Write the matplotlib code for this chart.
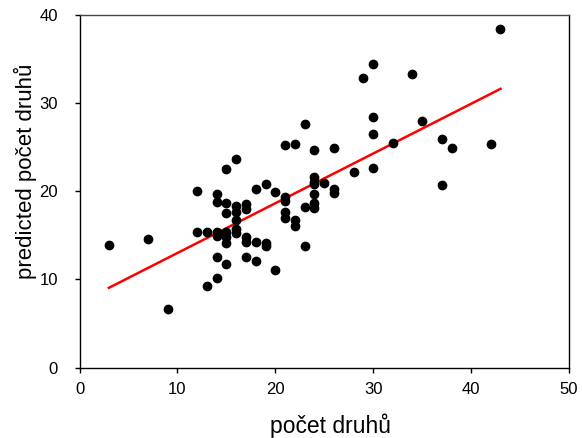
import matplotlib
matplotlib.use("Agg")
import matplotlib.pyplot as plt

# --- data ---
pocet = [3, 7, 9,
         12, 12, 13, 13,
         14, 14, 14, 14, 14, 14,
         15, 15, 15, 15, 15, 15, 15,
         16, 16, 16, 16, 16, 16,
         17, 17, 17, 17, 17,
         18, 18, 18,
         19, 19, 19,
         20, 20,
         21, 21, 21, 21, 21,
         22, 22, 22,
         23, 23, 23,
         24, 24, 24, 24, 24, 24, 24,
         25, 26, 26, 26, 28, 29,
         30, 30, 30, 30,
         32, 34, 35, 37, 37, 38, 42, 43]
predicted = [13.9, 14.6, 6.6,
             20.0, 15.4, 15.4, 9.25,
             19.7, 18.8, 15.4, 14.9, 12.5, 10.2,
             22.5, 18.7, 17.5, 15.4, 14.8, 14.1, 11.7,
             23.6, 18.3, 17.7, 16.7, 15.7, 15.3,
             18.6, 18.0, 14.8, 14.2, 12.6,
             20.2, 14.2, 12.1,
             20.8, 14.1, 13.8,
             19.9, 11.1,
             25.2, 19.4, 18.9, 17.6, 17.0,
             25.3, 16.7, 16.05,
             27.6, 18.2, 13.8,
             24.7, 21.6, 21.1, 20.8, 19.7, 18.7, 18.1,
             20.9, 24.9, 20.3, 19.75, 22.2, 32.8,
             34.4, 28.4, 26.5, 22.65,
             25.5, 33.3, 27.9, 25.9, 20.7, 24.9, 25.3, 38.4]

# regression line end points
fit_x = [3, 43]
fit_y = [9.05, 31.6]

x_ticks = [0, 10, 20, 30, 40, 50]
y_ticks = [0, 10, 20, 30, 40]

plt.rcParams['font.family'] = ['Liberation Sans', 'DejaVu Sans']

fig = plt.figure(figsize=(5.82, 4.38), dpi=100)
ax = fig.add_axes([0.1366, 0.1605, 0.8411, 0.8059])

ax.plot(pocet, predicted, 'o', color='black', markersize=6, zorder=3)
ax.plot(fit_x, fit_y, color='red', linewidth=1.8, zorder=2)

ax.set_xlim(0, 50)
ax.set_ylim(0, 40)
ax.set_xticks(x_ticks)
ax.set_yticks(y_ticks)
ax.tick_params(direction='out', length=3.6, width=1, labelsize=12)
ax.tick_params(axis='x', pad=7)
ax.tick_params(axis='y', pad=12)

for s in ax.spines.values():
    s.set_linewidth(1)
    s.set_color('black')
ax.spines['top'].set_color('#444444')

ax.set_xlabel('počet druhů', fontsize=16.5)
ax.xaxis.set_label_coords(0.512, -0.13)
ax.set_ylabel('predicted počet druhů', fontsize=16)
ax.yaxis.set_label_coords(-0.086, 0.556)

fig.savefig('out.png', dpi=100)
